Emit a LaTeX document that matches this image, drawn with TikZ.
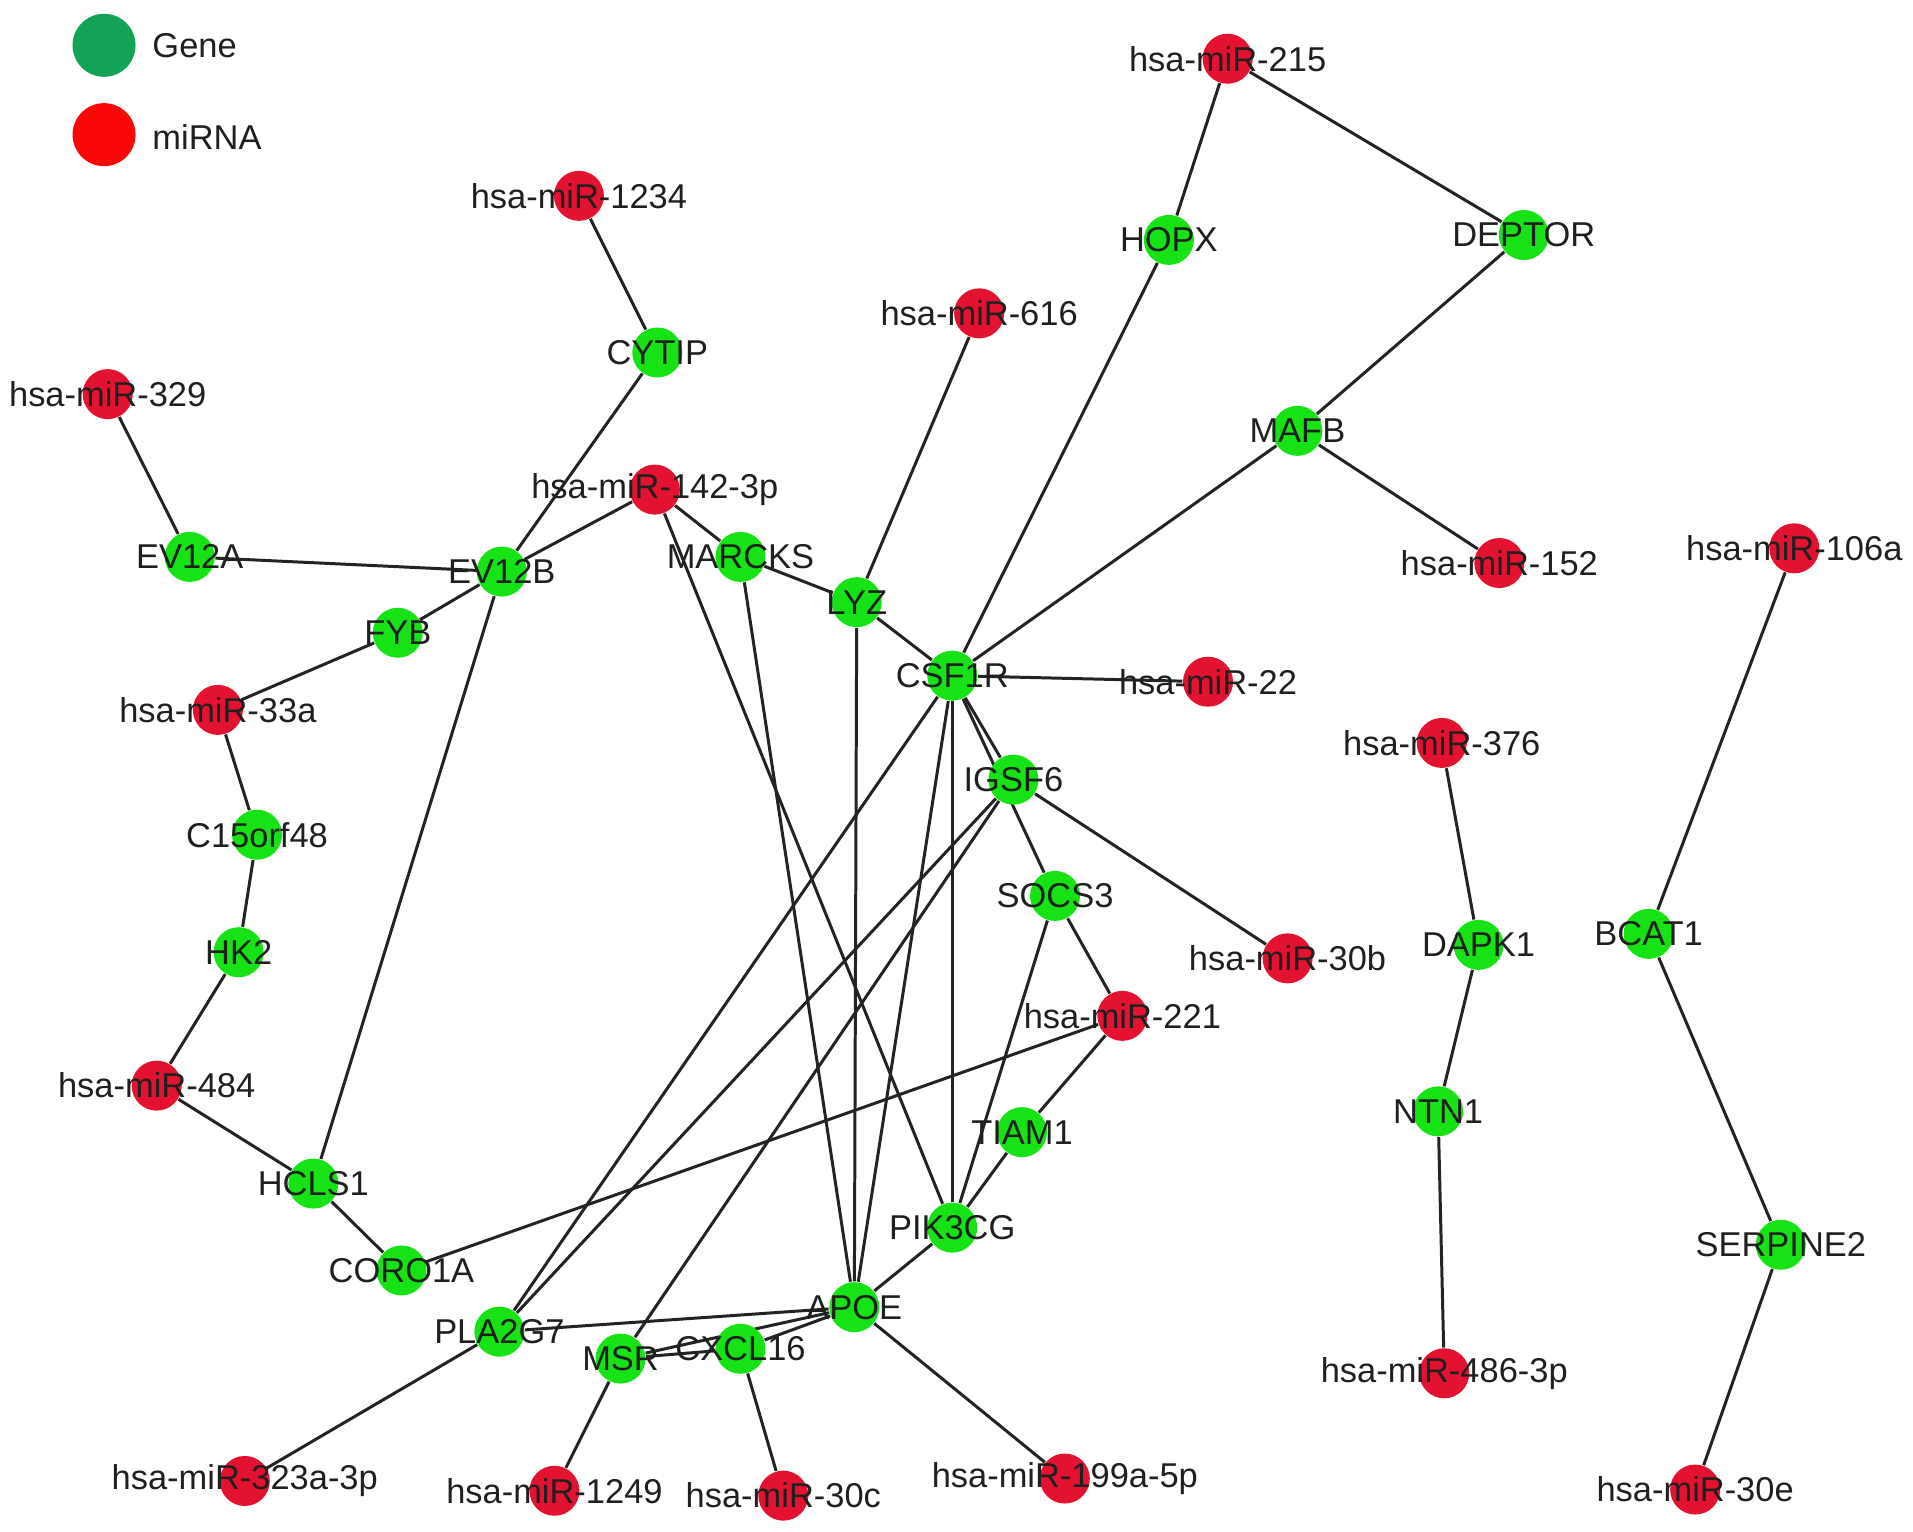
\documentclass[tikz,border=0pt]{standalone}
\usepackage{fontspec}
\setmainfont{Liberation Sans}
\usetikzlibrary{backgrounds}

\definecolor{genegreen}{RGB}{22,226,22}
\definecolor{mirred}{RGB}{226,18,48}
\definecolor{legendgreen}{RGB}{18,163,86}
\definecolor{legendred}{RGB}{250,8,8}
\definecolor{edgegray}{RGB}{35,35,35}

\tikzset{
    gene/.style={circle, fill=genegreen, minimum size=0.5cm, inner sep=0pt},
    mirna/.style={circle, fill=mirred, minimum size=0.5cm, inner sep=0pt},
    every label/.style={font=\fontsize{9.8}{11}\selectfont, text=black!88, inner sep=0pt},
    edge/.style={line width=0.85pt, draw=edgegray},
    legdot/.style={circle, minimum size=0.63cm, inner sep=0pt},
}

\begin{document}
\begin{tikzpicture}[x=0.01224cm, y=-0.01224cm]
        \useasboundingbox (0,0) rectangle (1563,1251.6);

        % legend
        \node[legdot, fill=legendgreen] at (85,37) (legGene) {};
        \node[anchor=west, inner sep=0pt, font=\fontsize{9.8}{11}\selectfont, text=black!88] at (124,37) (legGeneText) {Gene};
        \node[legdot, fill=legendred] at (85,110) (legMir) {};
        \node[anchor=west, inner sep=0pt, font=\fontsize{9.8}{11}\selectfont, text=black!88] at (124,112) (legMirText) {miRNA};

        % genes
        \node[gene, label=center:HOPX] at (955,196) (hopx) {};
        \node[gene, label=center:DEPTOR] at (1245,192) (deptor) {};
        \node[gene, label=center:CYTIP] at (537,288) (cytip) {};
        \node[gene, label=center:MAFB] at (1060,352) (mafb) {};
        \node[gene, label=center:MARCKS] at (605,455) (marcks) {};
        \node[gene, label=center:EV12A] at (155,455) (eva) {};
        \node[gene, label=center:EV12B] at (410,467) (evb) {};
        \node[gene, label=center:LYZ] at (700,492) (lyz) {};
        \node[gene, label=center:FYB] at (325,517) (fyb) {};
        \node[gene, label=center:CSF1R] at (778,552) (csf) {};
        \node[gene, label=center:IGSF6] at (828,637) (igsf) {};
        \node[gene, label=center:C15orf48] at (210,682) (c15) {};
        \node[gene, label=center:SOCS3] at (862,732) (socs) {};
        \node[gene, label=center:HK2] at (195,778) (hk) {};
        \node[gene, label=center:DAPK1] at (1208,772) (dapk) {};
        \node[gene, label=center:BCAT1] at (1347,763) (bcat) {};
        \node[gene, label=center:NTN1] at (1175,908) (ntn) {};
        \node[gene, label=center:TIAM1] at (835,925) (tiam) {};
        \node[gene, label=center:HCLS1] at (256,967) (hcls) {};
        \node[gene, label=center:PIK3CG] at (778,1003) (pik) {};
        \node[gene, label=center:SERPINE2] at (1455,1017) (serp) {};
        \node[gene, label=center:CORO1A] at (328,1038) (coro) {};
        \node[gene, label=center:APOE] at (698,1068) (apoe) {};
        \node[gene, label=center:PLA2G7] at (408,1088) (pla) {};
        \node[gene, label=center:MSR] at (507,1110) (msr) {};
        \node[gene, label=center:CXCL16] at (605,1102) (cxcl) {};

        % miRNAs
        \node[mirna, label=center:hsa-miR-215] at (1003,48) (m215) {};
        \node[mirna, label=center:hsa-miR-1234] at (473,160) (m1234) {};
        \node[mirna, label=center:hsa-miR-616] at (800,256) (m616) {};
        \node[mirna, label=center:hsa-miR-329] at (88,322) (m329) {};
        \node[mirna, label=center:hsa-miR-142-3p] at (535,400) (m142) {};
        \node[mirna, label=center:hsa-miR-152] at (1225,460) (m152) {};
        \node[mirna, label=center:hsa-miR-106a] at (1466,448) (m106) {};
        \node[mirna, label=center:hsa-miR-22] at (987,557) (m22) {};
        \node[mirna, label=center:hsa-miR-33a] at (178,580) (m33a) {};
        \node[mirna, label=center:hsa-miR-376] at (1178,607) (m376) {};
        \node[mirna, label=center:hsa-miR-30b] at (1052,783) (m30b) {};
        \node[mirna, label=center:hsa-miR-221] at (917,830) (m221) {};
        \node[mirna, label=center:hsa-miR-484] at (128,887) (m484) {};
        \node[mirna, label=center:hsa-miR-486-3p] at (1180,1122) (m486) {};
        \node[mirna, label=center:hsa-miR-323a-3p] at (200,1210) (m323) {};
        \node[mirna, label=center:hsa-miR-1249] at (453,1218) (m1249) {};
        \node[mirna, label=center:hsa-miR-30c] at (640,1222) (m30c) {};
        \node[mirna, label=center:hsa-miR-199a-5p] at (870,1208) (m199) {};
        \node[mirna, label=center:hsa-miR-30e] at (1385,1217) (m30e) {};

        \begin{pgfonlayer}{background}
        \draw[edge] (m215) -- (hopx);
        \draw[edge] (m215) -- (deptor);
        \draw[edge] (deptor) -- (mafb);
        \draw[edge] (mafb) -- (m152);
        \draw[edge] (mafb) -- (csf);
        \draw[edge] (hopx) -- (csf);
        \draw[edge] (m1234) -- (cytip);
        \draw[edge] (cytip) -- (evb);
        \draw[edge] (m616) -- (lyz);
        \draw[edge] (m329) -- (eva);
        \draw[edge] (eva) -- (evb);
        \draw[edge] (evb) -- (m142);
        \draw[edge] (m142) -- (marcks);
        \draw[edge] (m142) -- (pik);
        \draw[edge] (marcks) -- (lyz);
        \draw[edge] (marcks) -- (apoe);
        \draw[edge] (lyz) -- (csf);
        \draw[edge] (lyz) -- (apoe);
        \draw[edge] (csf) -- (m22);
        \draw[edge] (csf) -- (igsf);
        \draw[edge] (csf) -- (socs);
        \draw[edge] (csf) -- (pla);
        \draw[edge] (csf) -- (apoe);
        \draw[edge] (csf) -- (pik);
        \draw[edge] (igsf) -- (m30b);
        \draw[edge] (igsf) -- (pla);
        \draw[edge] (igsf) -- (msr);
        \draw[edge] (socs) -- (m221);
        \draw[edge] (socs) -- (pik);
        \draw[edge] (m221) -- (tiam);
        \draw[edge] (tiam) -- (pik);
        \draw[edge] (m221) -- (coro);
        \draw[edge] (evb) -- (fyb);
        \draw[edge] (fyb) -- (m33a);
        \draw[edge] (m33a) -- (c15);
        \draw[edge] (c15) -- (hk);
        \draw[edge] (hk) -- (m484);
        \draw[edge] (m484) -- (hcls);
        \draw[edge] (evb) -- (hcls);
        \draw[edge] (hcls) -- (coro);
        \draw[edge] (pik) -- (apoe);
        \draw[edge] (apoe) -- (pla);
        \draw[edge] (apoe) -- (cxcl);
        \draw[edge] (apoe) -- (msr);
        \draw[edge] (cxcl) -- (msr);
        \draw[edge] (apoe) -- (m199);
        \draw[edge] (cxcl) -- (m30c);
        \draw[edge] (msr) -- (m1249);
        \draw[edge] (pla) -- (m323);
        \draw[edge] (m376) -- (dapk);
        \draw[edge] (dapk) -- (ntn);
        \draw[edge] (ntn) -- (m486);
        \draw[edge] (m106) -- (bcat);
        \draw[edge] (bcat) -- (serp);
        \draw[edge] (serp) -- (m30e);
        \end{pgfonlayer}
\end{tikzpicture}
\end{document}
